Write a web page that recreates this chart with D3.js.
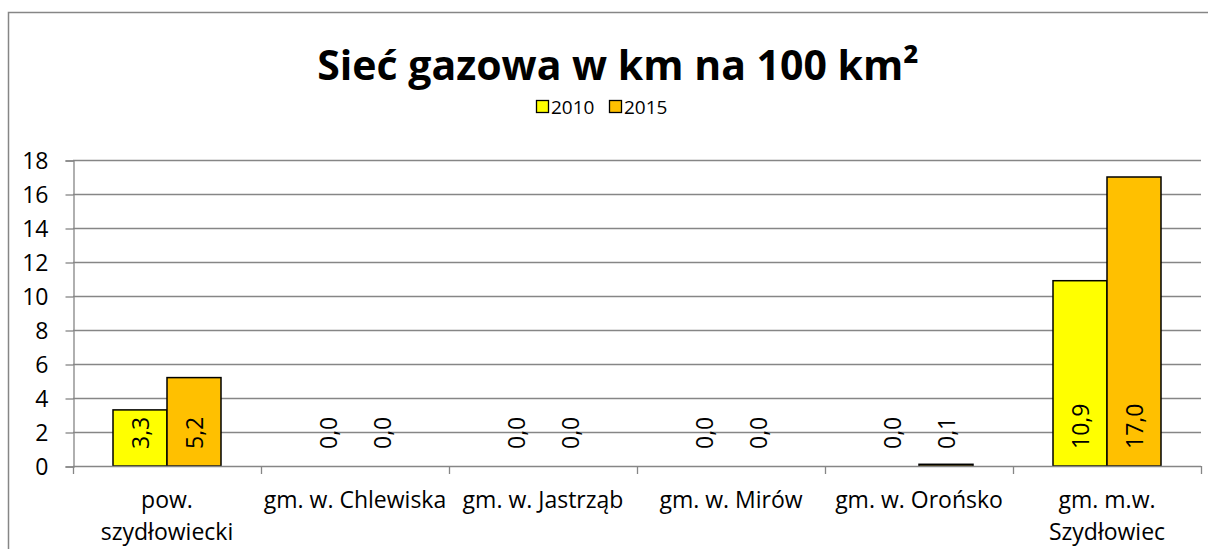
<!DOCTYPE html>
<html>
<head>
<meta charset="utf-8">
<script src="https://cdn.jsdelivr.net/npm/d3@7"></script>
<style>
  html, body { margin: 0; padding: 0; background: #fff; }
  svg { display: block; font-family: "Open Sans", "Noto Sans", sans-serif; }
</style>
</head>
<body>
<svg id="chart" width="1208" height="549"></svg>
<script>
// Gas network density, km per 100 km²
const categories = ["pow.\nszydłowiecki", "gm. w. Chlewiska", "gm. w. Jastrząb", "gm. w. Mirów", "gm. w. Orońsko", "gm. m.w.\nSzydłowiec"];
const seriesNames = ["2010", "2015"];
const values2010 = [3.3, 0.0, 0.0, 0.0, 0.0, 10.9];
const values2015 = [5.2, 0.0, 0.0, 0.0, 0.1, 17.0];
const yTicks = [0, 2, 4, 6, 8, 10, 12, 14, 16, 18];
const title = "Sieć gazowa w km na 100 km²";

const colors = { "2010": "#ffff00", "2015": "#ffc000" };
const gridColor = "#868686";

const svg = d3.select("#chart");

// outer frame
svg.append("rect")
  .attr("x", 8.5).attr("y", 12.5)
  .attr("width", 1220).attr("height", 560)
  .attr("fill", "#fff").attr("stroke", gridColor).attr("stroke-width", 1.5);

const plot = { left: 73, right: 1201, top: 160, bottom: 466 };

const y = d3.scaleLinear().domain([0, 18]).range([plot.bottom, plot.top]);
const x0 = d3.scaleBand().domain(categories).range([plot.left, plot.right]).padding(0);
const x1 = d3.scaleBand().domain(seriesNames).range([0, x0.bandwidth()])
  .paddingInner(0).paddingOuter(40 / 54);

// gridlines
svg.append("g").selectAll("line").data(yTicks.filter(d => d > 0)).join("line")
  .attr("x1", plot.left).attr("x2", plot.right)
  .attr("y1", d => Math.round(y(d)) + 0.5).attr("y2", d => Math.round(y(d)) + 0.5)
  .attr("stroke", gridColor).attr("stroke-width", 1.3);

// y axis
const yAxis = d3.axisLeft(y).tickValues(yTicks).tickSize(8).tickPadding(17).tickFormat(d3.format("d"));
const gy = svg.append("g").attr("transform", `translate(${plot.left + 0.5},0.5)`).call(yAxis);
gy.select(".domain").attr("stroke", gridColor).attr("stroke-width", 1.3);
gy.selectAll(".tick line").attr("stroke", gridColor).attr("stroke-width", 1.3);
gy.selectAll(".tick text").attr("font-size", 23).attr("fill", "#000")
  .attr("font-family", "Open Sans").attr("dy", "0.36em");

// bars
const rows = categories.map((c, i) => ({ cat: c, vals: [
  { key: "2010", value: values2010[i] },
  { key: "2015", value: values2015[i] }
]}));

const groups = svg.append("g").selectAll("g").data(rows).join("g")
  .attr("transform", d => `translate(${x0(d.cat)},0)`);

groups.selectAll("rect").data(d => d.vals.filter(v => v.value > 0)).join("rect")
  .attr("x", d => x1(d.key))
  .attr("y", d => y(d.value))
  .attr("width", x1.bandwidth())
  .attr("height", d => y(0) - y(d.value))
  .attr("fill", d => colors[d.key])
  .attr("stroke", "#000").attr("stroke-width", 1.5);

// value labels, rotated, anchored at the base
const fmt = v => d3.format(".1f")(v).replace(".", ",");
groups.selectAll("text").data(d => d.vals).join("text")
  .attr("transform", d => `translate(${x1(d.key) + x1.bandwidth() / 2 + 8.5},${y(0) - 17}) rotate(-90)`)
  .attr("text-anchor", "start")
  .attr("font-size", 23)
  .attr("fill", "#000")
  .text(d => fmt(d.value));

// x axis line and category separators
svg.append("line")
  .attr("x1", plot.left).attr("x2", plot.right)
  .attr("y1", plot.bottom + 0.5).attr("y2", plot.bottom + 0.5)
  .attr("stroke", gridColor).attr("stroke-width", 1.3);
const bounds = categories.map(c => x0(c)).concat([plot.right]);
svg.append("g").selectAll("line").data(bounds).join("line")
  .attr("x1", d => Math.round(d) + 0.5).attr("x2", d => Math.round(d) + 0.5)
  .attr("y1", plot.bottom).attr("y2", plot.bottom + 8)
  .attr("stroke", gridColor).attr("stroke-width", 1.3);

// category labels
const catText = svg.append("g").selectAll("text").data(categories).join("text")
  .attr("x", d => x0(d) + x0.bandwidth() / 2)
  .attr("y", 508)
  .attr("text-anchor", "middle")
  .attr("font-size", 23)
  .attr("fill", "#000");
catText.selectAll("tspan").data(d => d.split("\n")).join("tspan")
  .attr("x", function() { return d3.select(this.parentNode).attr("x"); })
  .attr("dy", (d, i) => i === 0 ? 0 : 32)
  .text(d => d);

// title
svg.append("text")
  .attr("x", 618).attr("y", 80)
  .attr("text-anchor", "middle")
  .attr("font-size", 41).attr("font-weight", "bold")
  .attr("fill", "#000")
  .text(title);

// legend
const legend = svg.append("g").selectAll("g").data(seriesNames).join("g")
  .attr("transform", (d, i) => `translate(${536 + i * 73},100)`);
legend.append("rect")
  .attr("x", 0.5).attr("y", 0.5).attr("width", 12).attr("height", 12)
  .attr("fill", d => colors[d]).attr("stroke", "#000").attr("stroke-width", 1.3);
legend.append("text")
  .attr("x", 15).attr("y", 14)
  .attr("font-size", 19).attr("fill", "#000")
  .text(d => d);
</script>
</body>
</html>
